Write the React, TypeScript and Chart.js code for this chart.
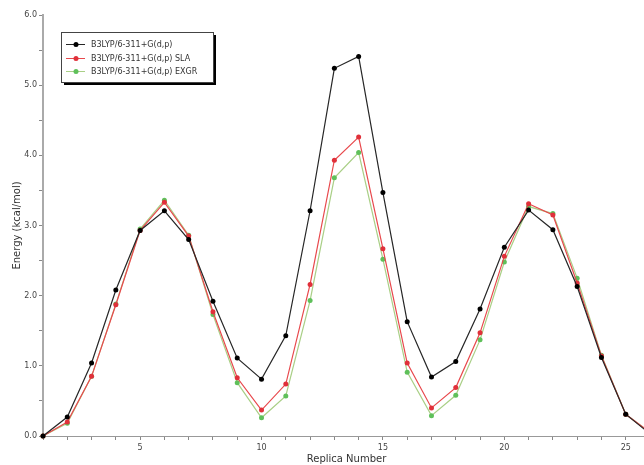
import React, { useEffect, useRef } from "react";
import { Chart, registerables } from "chart.js";

Chart.register(...registerables);

const replicas = [1, 2, 3, 4, 5, 6, 7, 8, 9, 10, 11, 12, 13, 14, 15, 16, 17, 18, 19, 20, 21, 22, 23, 24, 25, 26];
const b3lyp = [0, 0.27, 1.04, 2.08, 2.93, 3.21, 2.8, 1.92, 1.11, 0.81, 1.43, 3.21, 5.24, 5.41, 3.47, 1.63, 0.84, 1.06, 1.81, 2.69, 3.22, 2.94, 2.13, 1.12, 0.31, 0.03];
const sla = [0, 0.2, 0.85, 1.87, 2.93, 3.33, 2.85, 1.77, 0.83, 0.37, 0.74, 2.16, 3.93, 4.26, 2.67, 1.04, 0.4, 0.69, 1.47, 2.56, 3.31, 3.15, 2.18, 1.14, 0.31, 0.05];
const exgr = [0, 0.18, 0.85, 1.88, 2.95, 3.36, 2.86, 1.73, 0.76, 0.26, 0.57, 1.93, 3.68, 4.04, 2.52, 0.91, 0.29, 0.58, 1.37, 2.48, 3.27, 3.17, 2.25, 1.15, 0.31, 0.05];
const seriesNames = ["B3LYP/6-311+G(d,p)", "B3LYP/6-311+G(d,p) SLA", "B3LYP/6-311+G(d,p) EXGR"];
const xLabelTicks = [5, 10, 15, 20, 25];
const yLabelTicks = [0, 1, 2, 3, 4, 5, 6];

const lineColors = ["#262626", "#e8484c", "#a9cf86"];
const pointColors = ["#000000", "#e0303a", "#5fc05a"];

const legendPlugin = {
  id: "boxLegend",
  afterDraw(chart: any) {
    const ctx = chart.ctx;
    const x0 = 61, y0 = 32, w = 152, h = 50;
    ctx.save();
    ctx.fillStyle = "#000";
    ctx.fillRect(x0 + 3, y0 + 3, w, h);
    ctx.fillStyle = "#fff";
    ctx.fillRect(x0, y0, w, h);
    ctx.strokeStyle = "#444";
    ctx.lineWidth = 1;
    ctx.strokeRect(x0 + 0.5, y0 + 0.5, w, h);
    const ys = [44, 58, 71];
    ctx.font = "8px 'DejaVu Sans'";
    ctx.textBaseline = "middle";
    seriesNames.forEach((name, i) => {
      ctx.strokeStyle = lineColors[i];
      ctx.lineWidth = 1;
      ctx.beginPath();
      ctx.moveTo(66, ys[i] + 0.5);
      ctx.lineTo(85, ys[i] + 0.5);
      ctx.stroke();
      ctx.fillStyle = pointColors[i];
      ctx.beginPath();
      ctx.arc(76, ys[i] + 0.5, 2.5, 0, Math.PI * 2);
      ctx.fill();
      ctx.fillStyle = "#333";
      ctx.fillText(name, 91, ys[i] + 1);
    });
    ctx.restore();
  },
};

export default function App() {
  const ref = useRef<HTMLCanvasElement>(null);
  useEffect(() => {
    if (!ref.current) return;
    const mk = (i: number, data: number[]) => ({
      label: seriesNames[i],
      data: replicas.map((r, k) => ({ x: r, y: data[k] })),
      borderColor: lineColors[i],
      backgroundColor: pointColors[i],
      pointBackgroundColor: pointColors[i],
      pointBorderColor: pointColors[i],
      pointRadius: 2.5,
      pointBorderWidth: 0,
      borderWidth: 1.2,
      tension: 0,
      clip: false as any,
    });
    const chart = new Chart(ref.current, {
      type: "line",
      data: {
        datasets: [mk(0, b3lyp), mk(1, sla), mk(2, exgr)],
      },
      options: {
        responsive: false,
        animation: false,
        layout: { padding: { top: 15, right: 10, left: 0, bottom: 0 } },
        plugins: { legend: { display: false }, tooltip: { enabled: false } },
        scales: {
          x: {
            type: "linear",
            min: 1,
            max: 26,
            afterFit: (s: any) => {
              s.height = 29;
            },
            afterBuildTicks: (s: any) => {
              const t = [];
              for (let v = 1; v <= 26; v++) t.push({ value: v });
              s.ticks = t;
            },
            ticks: {
              autoSkip: false,
              maxRotation: 0,
              padding: 3,
              color: "#444",
              font: { family: "DejaVu Sans", size: 8 },
              callback: (v: any) => (xLabelTicks.includes(Number(v)) ? String(v) : ""),
            },
            grid: { drawOnChartArea: false, tickLength: 4, color: "#888" },
            border: { color: "#999", width: 1 },
            title: {
              display: true,
              text: "Replica Number",
              color: "#333",
              font: { family: "DejaVu Sans", size: 10 },
              padding: { top: 0, bottom: 0 },
            },
          },
          y: {
            min: 0,
            max: 6,
            afterFit: (s: any) => {
              s.width = 43;
            },
            afterBuildTicks: (s: any) => {
              const t = [];
              for (let v = 0; v <= 12; v++) t.push({ value: v / 2 });
              s.ticks = t;
            },
            ticks: {
              autoSkip: false,
              padding: 2,
              color: "#444",
              font: { family: "DejaVu Sans", size: 8 },
              callback: (v: any) => (yLabelTicks.includes(Number(v)) ? Number(v).toFixed(1) : ""),
            },
            grid: { drawOnChartArea: false, tickLength: 4, color: "#888" },
            border: { color: "#aaa", width: 2 },
            title: {
              display: true,
              text: "Energy (kcal/mol)",
              color: "#333",
              font: { family: "DejaVu Sans", size: 10 },
              padding: { top: 11, bottom: 0 },
            },
          },
        },
      },
      plugins: [legendPlugin],
    });
    return () => chart.destroy();
  }, []);
  return (
    <div style={{ position: "fixed", left: 0, top: 0, width: 644, height: 465, overflow: "hidden", background: "#fff" }}>
      <canvas ref={ref} width={660} height={465} style={{ display: "block" }} />
    </div>
  );
}
